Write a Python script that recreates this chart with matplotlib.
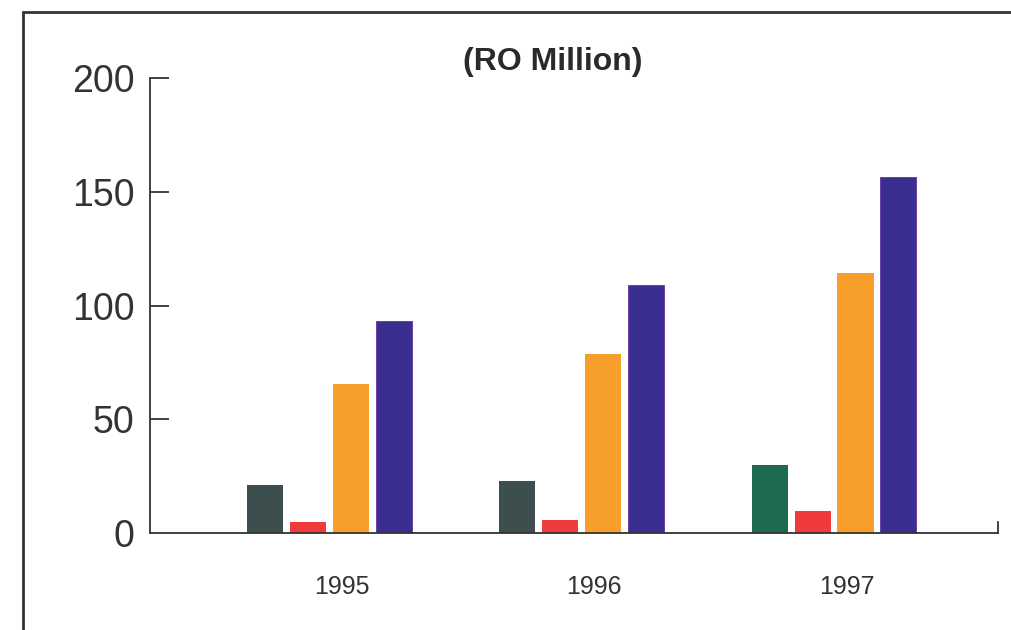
import numpy as np
import matplotlib.pyplot as plt
from matplotlib.patches import Rectangle

# datos (RO Million)
years = ['1995', '1996', '1997']
serie_1 = [21, 23, 30]
serie_2 = [5, 5.5, 9.5]
serie_3 = [65.5, 78.5, 114.5]
serie_4 = [93, 109, 156.5]

colores_1 = ['#3c4e4e', '#3c4e4e', '#1c6a4f']
color_2 = '#f03a3c'
color_3 = '#f89e2a'
color_4 = '#3a2f90'

plt.rcParams['font.family'] = ['Liberation Sans', 'DejaVu Sans']

fig = plt.figure(figsize=(10.11, 6.3), dpi=100)
ax = fig.add_axes([0.1484, 0.154, 0.8388, 0.722])

x = np.arange(len(years))
ancho = 0.143
paso = 0.17

ax.bar(x - 1.5 * paso, serie_1, ancho, color=colores_1)
ax.bar(x - 0.5 * paso, serie_2, ancho, color=color_2)
ax.bar(x + 0.5 * paso, serie_3, ancho, color=color_3)
ax.bar(x + 1.5 * paso, serie_4, ancho, color=color_4, edgecolor='#6a2fa0', linewidth=0.6)

ax.set_xlim(-0.71, 2.65)
ax.set_ylim(0, 200)
ax.set_yticks([0, 50, 100, 150, 200])
ax.set_xticks(x + 0.05)
ax.set_xticklabels(years)

for lado in ['top', 'right']:
    ax.spines[lado].set_visible(False)
ax.spines['left'].set_linewidth(1.3)
ax.spines['bottom'].set_linewidth(1.3)
ax.spines['left'].set_color('#333333')
ax.spines['bottom'].set_color('#333333')

ax.tick_params(axis='y', direction='in', length=14, width=1.3, pad=11,
               labelsize=27, colors='#333333', labelcolor='#333333')
ax.tick_params(axis='x', length=0, pad=30, labelsize=18, labelcolor='#333333')
# la raya del 0 no se ve en el original
ax.yaxis.get_major_ticks()[0].tick1line.set_visible(False)

# pequeña marca al final del eje x
ax.plot([1, 1], [0, 0.025], transform=ax.transAxes, color='#333333', lw=1.3, clip_on=False)

fig.text(0.547, 0.902, '(RO Million)', ha='center', va='center',
         fontsize=23, fontweight='bold', color='#2a2a2a')

# marco exterior
marco = Rectangle((23 / 1011, -0.1), 1.2, 0.1 + 1 - 12 / 630,
                  transform=fig.transFigure, fill=False, edgecolor='#333333', lw=2)
fig.patches.append(marco)

fig.savefig('out.png', dpi=100)
